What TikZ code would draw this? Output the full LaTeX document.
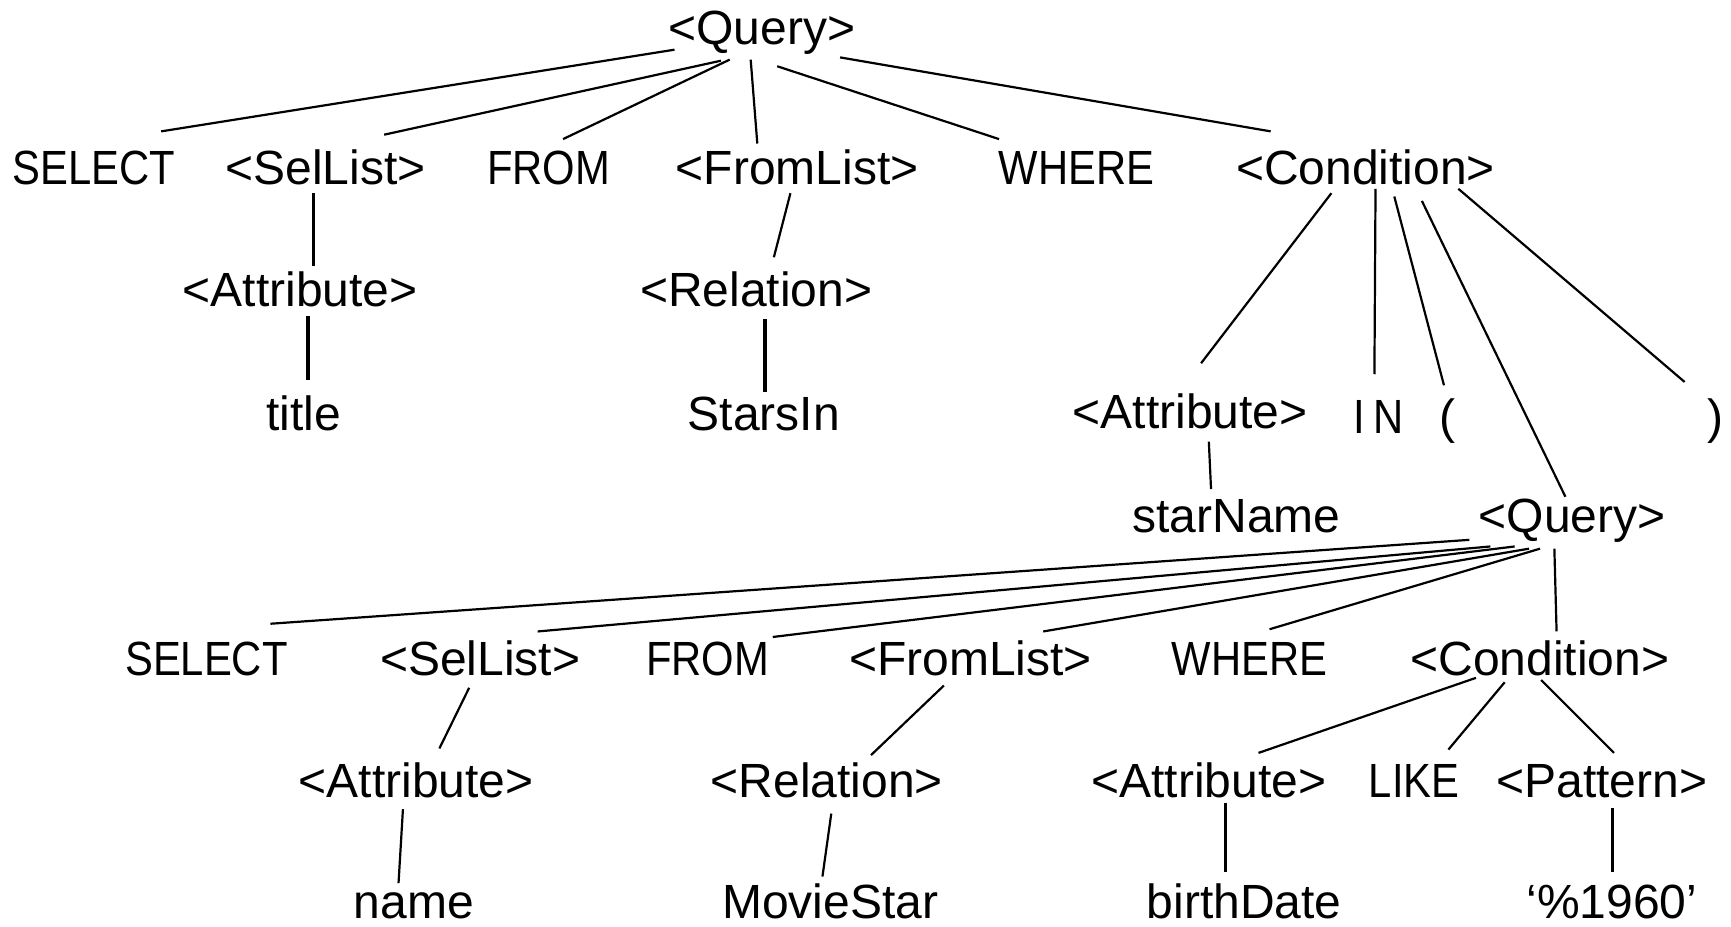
\documentclass[tikz,border=0pt]{standalone}
\usepackage{fontspec}
\setmainfont{Liberation Sans}
\newfontfamily\kwfont[FakeStretch=0.87]{Liberation Sans}
\begin{document}
\begin{tikzpicture}[x=0.552pt,y=-0.552pt,
  lab/.style={inner sep=0pt,anchor=base,font=\fontsize{24}{28}\selectfont},
  kw/.style={lab,font=\fontsize{24}{28}\selectfont\kwfont},
  conn/.style={line width=1.1pt},
  thick conn/.style={line width=1.6pt}]
\useasboundingbox (0,0) rectangle (1568,839);

% outer query
\node[lab] (q1) at (690,40) {<Query>};
\node[kw]  (sel1) at (85,167) {SELECT};
\node[lab] (sl1) at (295,167) {<SelList>};
\node[kw]  (from1) at (497,167) {FROM};
\node[lab] (fl1) at (722,167) {<FromList>};
\node[kw]  (where1) at (975,167) {WHERE};
\node[lab] (cond1) at (1237,167) {<Condition>};
\node[lab] (attr1) at (272,278) {<Attribute>};
\node[lab] (rel1) at (685,278) {<Relation>};
\node[lab] (title) at (275,390) {title};
\node[lab] (starsin) at (692,390) {StarsIn};
\node[lab] (attr2) at (1078,388) {<Attribute>};
\node[kw]  (in) at (1249,393) {I\,N};
\node[lab] (lp) at (1311,393) {(};
\node[lab] (rp) at (1554,393) {)};
\node[lab] (starname) at (1120,482) {starName};

% nested query
\node[lab] (q2) at (1424,482) {<Query>};
\node[kw]  (sel2) at (187,612) {SELECT};
\node[lab] (sl2) at (435,612) {<SelList>};
\node[kw]  (from2) at (641,612) {FROM};
\node[lab] (fl2) at (879,612) {<FromList>};
\node[kw]  (where2) at (1132,612) {WHERE};
\node[lab] (cond2) at (1395,612) {<Condition>};
\node[lab] (attr3) at (377,722) {<Attribute>};
\node[lab] (rel2) at (749,722) {<Relation>};
\node[lab] (attr4) at (1095,722) {<Attribute>};
\node[kw]  (like) at (1281,722) {LIKE};
\node[lab] (pat) at (1451,722) {<Pattern>};
\node[lab] (name) at (375,832) {name};
\node[lab] (moviestar) at (752,832) {MovieStar};
\node[lab] (birthdate) at (1127,832) {birthDate};
\node[lab] (pct) at (1460,832) {‘\%1960’};

% edges of the outer query
\draw[conn] ([shift={(-79,5)}]q1.base) -- ([shift={(61,-48)}]sel1.base);
\draw[conn] ([shift={(-37,15)}]q1.base) -- ([shift={(53,-45)}]sl1.base);
\draw[conn] ([shift={(-29,14)}]q1.base) -- ([shift={(13,-41)}]from1.base);
\draw[conn] ([shift={(-10,14)}]q1.base) -- ([shift={(-36,-37)}]fl1.base);
\draw[conn] ([shift={(14,20)}]q1.base) -- ([shift={(-70,-41)}]where1.base);
\draw[conn] ([shift={(71,12)}]q1.base) -- ([shift={(-86,-48)}]cond1.base);
\draw[conn] ([shift={(-11,8)}]sl1.base) -- ([shift={(12,-37)}]attr1.base);
\draw[thick conn] ([shift={(7,8)}]attr1.base) -- ([shift={(4,-46)}]title.base);
\draw[conn] ([shift={(-6,8)}]fl1.base) -- ([shift={(16,-45)}]rel1.base);
\draw[thick conn] ([shift={(8,11)}]rel1.base) -- ([shift={(1,-35)}]starsin.base);
\draw[conn] ([shift={(-31,8)}]cond1.base) -- ([shift={(10,-59)}]attr2.base);
\draw[conn] ([shift={(9,4)}]cond1.base) -- ([shift={(-4,-54)}]in.base);
\draw[conn] ([shift={(26,11)}]cond1.base) -- ([shift={(-3,-44)}]lp.base);
\draw[conn] ([shift={(51,15)}]cond1.base) -- ([shift={(-6,-32)}]q2.base);
\draw[conn] ([shift={(84,4)}]cond1.base) -- ([shift={(-28,-47)}]rp.base);
\draw[conn] ([shift={(17,12)}]attr2.base) -- ([shift={(-23,-39)}]starname.base);

% edges of the nested query
\draw[conn] ([shift={(-93,7)}]q2.base) -- ([shift={(58,-47)}]sel2.base);
\draw[conn] ([shift={(-74,13)}]q2.base) -- ([shift={(52,-40)}]sl2.base);
\draw[conn] ([shift={(-52,13)}]q2.base) -- ([shift={(59,-35)}]from2.base);
\draw[conn] ([shift={(-39,15)}]q2.base) -- ([shift={(66,-40)}]fl2.base);
\draw[conn] ([shift={(-29,15)}]q2.base) -- ([shift={(18,-42)}]where2.base);
\draw[conn] ([shift={(-16,15)}]q2.base) -- ([shift={(15,-40)}]cond2.base);
\draw[conn] ([shift={(-10,11)}]sl2.base) -- ([shift={(21,-44)}]attr3.base);
\draw[conn] ([shift={(-12,11)}]attr3.base) -- ([shift={(-14,-32)}]name.base);
\draw[conn] ([shift={(-24,9)}]fl2.base) -- ([shift={(40,-38)}]rel2.base);
\draw[conn] ([shift={(4,15)}]rel2.base) -- ([shift={(-7,-38)}]moviestar.base);
\draw[conn] ([shift={(-58,2)}]cond2.base) -- ([shift={(45,-40)}]attr4.base);
\draw[conn] ([shift={(-32,6)}]cond2.base) -- ([shift={(31,-43)}]like.base);
\draw[conn] ([shift={(1,4)}]cond2.base) -- ([shift={(11,-40)}]pat.base);
\draw[thick conn] ([shift={(15,5)}]attr4.base) -- ([shift={(-17,-42)}]birthdate.base);
\draw[thick conn] ([shift={(10,10)}]pat.base) -- ([shift={(1,-42)}]pct.base);
\end{tikzpicture}
\end{document}
